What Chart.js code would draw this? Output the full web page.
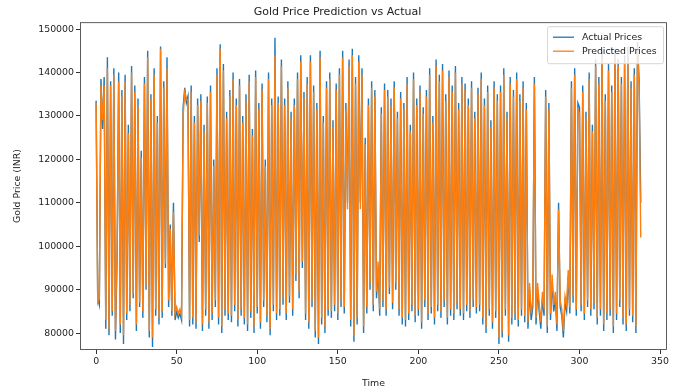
<!DOCTYPE html>
<html>
<head>
<meta charset="utf-8">
<title>Gold Price Prediction vs Actual</title>
<script src="https://cdn.jsdelivr.net/npm/chart.js@4.4.1/dist/chart.umd.min.js"></script>
<style>
  html, body { margin: 0; padding: 0; background: #fff; }
  #wrap { width: 675px; height: 389px; }
</style>
</head>
<body>
<div id="wrap"><canvas id="chart" width="675" height="389"></canvas></div>
<script>
// === Data ===

const actualPrices = [
  133500, 88000, 86500, 138500, 127000, 139000, 81000, 143500, 79500, 138000,
  84000, 141000, 78500, 97000, 140000, 80000, 136000, 77500, 139500, 83000,
  128000, 85000, 141500, 88000, 137000, 80500, 134000, 86000, 122000, 83500,
  139000, 90000, 145000, 79000, 135000, 76800, 141000, 84000, 130000, 82000,
  146000, 83500, 138000, 95000, 143500, 86000, 105000, 84000, 110000, 83000,
  85000, 83500, 84500, 83000, 132000, 136500, 133000, 134500, 81500, 137000,
  82000, 130000, 81000, 134000, 101000, 135000, 80500, 128000, 84000, 134500,
  81000, 137000, 83000, 120000, 86000, 141000, 82000, 146500, 80000, 142000,
  84000, 131000, 83000, 136000, 82500, 140000, 85000, 134000, 81500, 138500,
  84000, 130000, 82000, 135000, 80500, 139500, 83500, 127000, 80000, 140500,
  84500, 133000, 81000, 137500, 86000, 120000, 82500, 140000, 79500, 134000,
  85000, 148000, 83000, 134500, 84000, 143000, 86500, 134000, 83000, 138000,
  87000, 131000, 84000, 134000, 92000, 140000, 88000, 144000, 95000, 135500,
  83000, 139000, 81000, 144000, 86000, 137000, 79000, 133000, 77500, 145000,
  82000, 130000, 80000, 138000, 84000, 140000, 83500, 129000, 85000, 137500,
  83000, 141000, 86000, 145000, 84500, 133000, 110000, 143000, 81500, 145500,
  78000, 139000, 82000, 144000, 110000, 141000, 80000, 125000, 84500, 134000,
  90000, 138000, 85000, 136000, 88000, 95000, 84000, 132000, 86000, 137500,
  84000, 136000, 89000, 134000, 85500, 138000, 90000, 131000, 84000, 135500,
  82000, 133000, 81500, 139000, 83000, 128000, 85000, 140000, 82500, 134000,
  84000, 137000, 81000, 132000, 86000, 136000, 83000, 141000, 84500, 130000,
  82000, 143000, 85000, 139500, 83500, 142000, 86000, 135000, 82000, 140500,
  84000, 137000, 83000, 141500, 85500, 133000, 84000, 139000, 83000, 137500,
  85000, 134000, 83500, 138000, 86000, 131000, 84500, 136500, 85000, 140000,
  82000, 134000, 80000, 137000, 84000, 129000, 81000, 138000, 83500, 135000,
  77500, 137000, 79000, 141000, 84000, 131000, 78000, 139000, 82000, 136000,
  83000, 140000, 81500, 135000, 84000, 138000, 82500, 133000, 81000, 90000,
  83000, 86000, 139000, 82000, 90000, 85000, 81000, 88000, 84000, 136000,
  80000, 133000, 83000, 92000, 85000, 88000, 80500, 110000, 86000, 84000,
  79000, 87000, 85000, 93000, 84500, 138000, 87000, 141000, 84000, 133000,
  132000, 85000, 137000, 83000, 131000, 86000, 140000, 84000, 128000, 85500,
  143000, 82000, 139000, 84000, 145000, 80500, 135000, 83000, 142000, 84000,
  137000, 80000, 145500, 83000, 143000, 86000, 139000, 82000, 144000, 80500,
  146000, 84000, 138000, 82500, 141000, 80000, 147000, 138000, 110000
];

const predictedPrices = [
  133000, 87000, 88000, 137000, 129000, 137000, 83000, 141000, 81000, 137000,
  85000, 139500, 80500, 99000, 138000, 82000, 134500, 79500, 138000, 84500,
  126000, 86500, 140000, 89000, 135500, 82000, 132500, 87000, 120500, 85000,
  137500, 91000, 143500, 80500, 134000, 79000, 139500, 85500, 128500, 83500,
  145500, 85000, 136500, 96000, 141000, 87500, 104000, 85000, 108000, 84500,
  86000, 84500, 85500, 84000, 130000, 135500, 134000, 133500, 83000, 135500,
  83500, 128500, 82500, 132500, 102500, 133500, 82000, 126500, 85500, 133000,
  82500, 135500, 84500, 118500, 87500, 139500, 83500, 145500, 81500, 140500,
  85500, 129500, 84500, 134500, 84000, 138500, 86500, 132500, 83000, 137000,
  85500, 128500, 83500, 133500, 82000, 138000, 85000, 125500, 81500, 139000,
  86000, 131500, 82500, 136000, 87500, 118500, 84000, 138500, 81000, 132500,
  86500, 144000, 84500, 133000, 85500, 141500, 88000, 132500, 84500, 136500,
  88500, 129500, 85500, 132500, 93500, 138500, 89500, 142500, 96500, 134000,
  84500, 137500, 82500, 142500, 87500, 135500, 80500, 131500, 79000, 143500,
  83500, 128500, 81500, 136500, 85500, 138500, 85000, 127500, 86500, 136000,
  84500, 139500, 87500, 143500, 86000, 131500, 108500, 141500, 83000, 144000,
  79500, 137500, 83500, 142500, 108500, 139500, 81500, 123500, 86000, 132500,
  91500, 136500, 86500, 134500, 89500, 96500, 85500, 130500, 87500, 136000,
  85500, 134500, 90500, 132500, 87000, 136500, 91500, 129500, 85500, 134000,
  83500, 131500, 83000, 137500, 84500, 126500, 86500, 138500, 84000, 132500,
  85500, 135500, 82500, 130500, 87500, 134500, 84500, 139500, 86000, 128500,
  83500, 141500, 86500, 138000, 85000, 140500, 87500, 133500, 83500, 139000,
  85500, 135500, 84500, 140000, 87000, 131500, 85500, 137500, 84500, 136000,
  86500, 132500, 85000, 136500, 87500, 129500, 86000, 135000, 86500, 138500,
  83500, 132500, 81500, 135500, 85500, 127500, 82500, 136500, 85000, 133500,
  79000, 135500, 80500, 139500, 85500, 129500, 79500, 137500, 83500, 134500,
  84500, 138500, 83000, 133500, 85500, 136500, 84000, 131500, 82500, 91500,
  84500, 87500, 137500, 83500, 91500, 86500, 82500, 89500, 85500, 134500,
  81500, 131500, 84500, 93500, 86500, 89500, 82000, 108500, 87500, 85500,
  80500, 88500, 86500, 94500, 86000, 136500, 88500, 139500, 85500, 131500,
  130500, 86500, 135500, 84500, 129500, 87500, 138500, 85500, 126500, 87000,
  141500, 83500, 137500, 85500, 143500, 82000, 133500, 84500, 140500, 85500,
  135500, 81500, 144000, 84500, 141500, 87500, 137500, 83500, 142500, 82000,
  144500, 85500, 136500, 84000, 139500, 81500, 145500, 136500, 102000
];

const xTicks = [0, 50, 100, 150, 200, 250, 300, 350];
const yTicks = [80000, 90000, 100000, 110000, 120000, 130000, 140000, 150000];

// === Styles ===

const BLUE = '#1f77b4';
const ORANGE = '#ff7f0e';
const FONT = 'DejaVu Sans, sans-serif';

Chart.defaults.font.family = FONT;
Chart.defaults.color = '#222';

// box around the plot area, like matplotlib spines
const frame = {
    id: 'frame',
    afterDatasetsDraw(chart) {
        const { ctx, chartArea: a } = chart;
        ctx.save();
        ctx.strokeStyle = '#333';
        ctx.lineWidth = 0.8;
        ctx.strokeRect(a.left + 0.5, a.top + 0.5, a.right - a.left - 1, a.bottom - a.top - 1);
        ctx.restore();
    }
};

// legend drawn inside the top right corner
const innerLegend = {
    id: 'innerLegend',
    afterDraw(chart) {
        const { ctx, chartArea: a } = chart;
        const w = 116, h = 37;
        const x = a.right - w - 4, y = a.top + 4;
        ctx.save();
        ctx.fillStyle = 'rgba(255,255,255,0.8)';
        ctx.strokeStyle = '#d6d6d6';
        ctx.lineWidth = 1;
        ctx.beginPath();
        ctx.roundRect(x + 0.5, y + 0.5, w, h, 2);
        ctx.fill();
        ctx.stroke();
        ctx.font = '9.4px ' + FONT;
        ctx.textBaseline = 'middle';
        chart.data.datasets.forEach((ds, i) => {
            const ly = y + 11 + i * 14;
            ctx.strokeStyle = ds.borderColor;
            ctx.lineWidth = 1.3;
            ctx.beginPath();
            ctx.moveTo(x + 6, ly);
            ctx.lineTo(x + 27, ly);
            ctx.stroke();
            ctx.fillStyle = '#222';
            ctx.fillText(ds.label, x + 35, ly);
        });
        ctx.restore();
    }
};

const toPoints = arr => arr.map((v, i) => ({ x: i, y: v }));

new Chart(document.getElementById('chart'), {
    type: 'line',
    data: {
        datasets: [
            {
                label: 'Actual Prices',
                data: toPoints(actualPrices),
                borderColor: BLUE,
                borderWidth: 1.4,
                pointRadius: 0,
                tension: 0,
                order: 1
            },
            {
                label: 'Predicted Prices',
                data: toPoints(predictedPrices),
                borderColor: ORANGE,
                borderWidth: 1.4,
                pointRadius: 0,
                tension: 0,
                order: 0
            }
        ]
    },
    options: {
        responsive: false,
        animation: false,
        layout: { padding: { left: 8, right: 8, top: 0, bottom: 0 } },
        plugins: {
            legend: { display: false },
            tooltip: { enabled: false },
            title: {
                display: true,
                text: 'Gold Price Prediction vs Actual',
                font: { size: 11, weight: 'normal' },
                color: '#222',
                padding: { top: 6, bottom: 3 }
            }
        },
        scales: {
            x: {
                type: 'linear',
                min: -10,
                max: 354.3,
                afterBuildTicks: s => { s.ticks = xTicks.map(v => ({ value: v })); },
                afterFit: s => { s.height = 39; },
                grid: { display: true, drawOnChartArea: false, tickLength: 4, color: '#333' },
                border: { display: false },
                ticks: { font: { size: 9.4 }, padding: 2, maxRotation: 0 },
                title: { display: true, text: 'Time', font: { size: 9.4 }, padding: { top: 0, bottom: 0 } }
            },
            y: {
                min: 76100,
                max: 151600,
                afterBuildTicks: s => { s.ticks = yTicks.map(v => ({ value: v })); },
                afterFit: s => { s.width = 72; },
                grid: { display: true, drawOnChartArea: false, tickLength: 4, color: '#333' },
                border: { display: false },
                ticks: { font: { size: 9.4 }, padding: 2, callback: v => String(v) },
                title: { display: true, text: 'Gold Price (INR)', font: { size: 9.4 }, padding: { top: 4, bottom: 0 } }
            }
        }
    },
    plugins: [frame, innerLegend]
});
</script>
</body>
</html>
